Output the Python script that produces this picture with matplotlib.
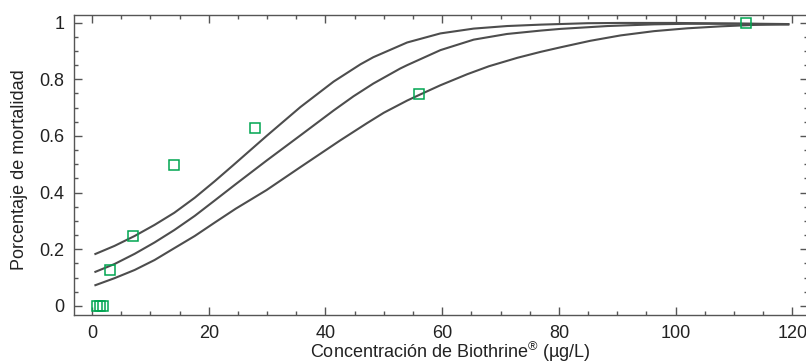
import matplotlib.pyplot as plt
from matplotlib.ticker import MultipleLocator

# observed mortality
conc = [0.8, 1.3, 1.8, 3.0, 7.0, 14.0, 28.0, 56.0, 112.0]
mort = [0.0, 0.0, 0.0, 0.127, 0.248, 0.498, 0.627, 0.748, 1.0]

# fitted curve
mid_x = [0.4, 3.85, 7.3, 10.7, 14.1, 17.6, 21.0, 24.5, 29.9, 35.7, 41.4, 44.8, 48.2,
         52.8, 54.0, 59.7, 65.4, 71.1, 76.9, 80.3, 88.3, 96.3, 102.0, 110.0, 119.5]
mid_y = [0.119, 0.148, 0.184, 0.224, 0.268, 0.318, 0.372, 0.428, 0.513, 0.602, 0.690, 0.740, 0.785,
         0.838, 0.850, 0.903, 0.940, 0.960, 0.972, 0.978, 0.988, 0.994, 0.996, 0.996, 0.994]

# upper band
up_x = [0.4, 3.85, 7.3, 10.7, 14.1, 17.6, 21.0, 24.2, 29.9, 35.7, 41.4, 46.0, 48.2,
        54.0, 59.7, 65.4, 71.1, 76.9, 84.9, 90.6, 99.5, 110.0, 119.5]
up_y = [0.182, 0.212, 0.247, 0.286, 0.329, 0.382, 0.440, 0.497, 0.600, 0.702, 0.792, 0.853, 0.878,
        0.930, 0.962, 0.979, 0.988, 0.993, 0.998, 0.999, 0.999, 0.997, 0.995]

# lower band
lo_x = [0.4, 3.85, 7.3, 10.7, 14.1, 17.6, 21.0, 24.6, 29.9, 35.7, 42.5, 47.1, 50.0, 54.0,
        56.4, 59.7, 64.3, 68.0, 72.9, 76.9, 80.3, 85.4, 90.6, 96.3, 102.0, 107.8, 113.5, 119.5]
lo_y = [0.072, 0.098, 0.127, 0.162, 0.204, 0.247, 0.294, 0.343, 0.409, 0.490, 0.584, 0.645, 0.682, 0.725,
        0.748, 0.779, 0.818, 0.846, 0.876, 0.897, 0.913, 0.936, 0.955, 0.970, 0.980, 0.987, 0.992, 0.994]

plt.rcParams['font.family'] = ['Liberation Sans', 'DejaVu Sans']
plt.rcParams['mathtext.fontset'] = 'custom'
plt.rcParams['mathtext.rm'] = 'Liberation Sans'

fig = plt.figure(figsize=(8.06, 3.64), dpi=100)
ax = fig.add_axes([74 / 806, 49 / 364, 734 / 806, 300 / 364])

line_c = '#4d4d4d'
for xs, ys in [(up_x, up_y), (mid_x, mid_y), (lo_x, lo_y)]:
    ax.plot(xs, ys, color=line_c, linewidth=1.5, solid_capstyle='butt',
            solid_joinstyle='round')

ax.plot(conc, mort, linestyle='none', marker='s', markersize=6.8,
        markerfacecolor='none', markeredgecolor='#00a651', markeredgewidth=1.1)

ax.set_xlim(-3.1, 122.7)
ax.set_ylim(-0.032, 1.027)
ax.xaxis.set_major_locator(MultipleLocator(20))
ax.xaxis.set_minor_locator(MultipleLocator(5))
ax.yaxis.set_minor_locator(MultipleLocator(0.05))
ax.set_yticks([0, 0.2, 0.4, 0.6, 0.8, 1.0])
ax.set_yticklabels(['0', '0.2', '0.4', '0.6', '0.8', '1'])

spine_c = '#555555'
for s in ax.spines.values():
    s.set_color(spine_c)
    s.set_linewidth(1.0)

ax.tick_params(which='both', direction='in', top=True, right=True, color=spine_c,
               labelsize=13, labelcolor='#222222')
ax.tick_params(which='major', length=6, width=1.0, pad=7)
ax.tick_params(which='minor', length=3, width=1.0)

fig.text(450 / 806, 1 - 358.5 / 364, 'Concentración de Biothrine$^{®}$ (µg/L)',
         fontsize=13, color='#222222', ha='center', va='baseline')
fig.text(20 / 806, 1 - 170 / 364, 'Porcentaje de mortalidad', rotation=90,
         fontsize=13, color='#222222', ha='center', va='center')

fig.savefig('out.png', dpi=100)
